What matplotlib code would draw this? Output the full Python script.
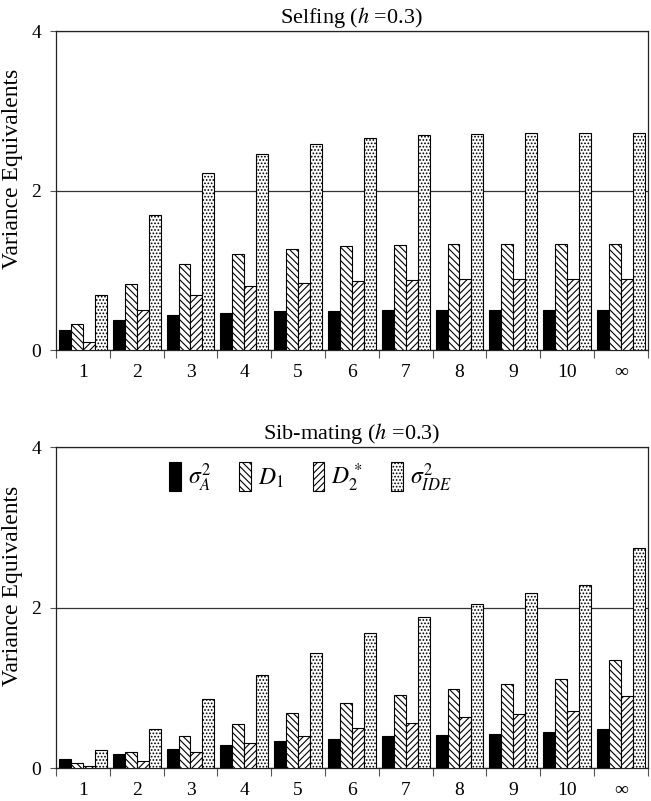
import numpy as np
import matplotlib
matplotlib.use("Agg")
import matplotlib.pyplot as plt
from matplotlib.ticker import FixedLocator

plt.rcParams['font.family'] = ['Liberation Serif', 'DejaVu Serif']
plt.rcParams['mathtext.fontset'] = 'stix'
plt.rcParams['hatch.linewidth'] = 0.8

# categories (generations)
gens = ['1', '2', '3', '4', '5', '6', '7', '8', '9', '10', '\u221e']

# Selfing (h = 0.3)
self_sigA = [0.25, 0.38, 0.44, 0.47, 0.49, 0.49, 0.50, 0.50, 0.50, 0.50, 0.50]
self_D1   = [0.33, 0.83, 1.08, 1.20, 1.27, 1.30, 1.32, 1.33, 1.33, 1.33, 1.33]
self_D2s  = [0.10, 0.50, 0.69, 0.80, 0.84, 0.86, 0.88, 0.89, 0.89, 0.89, 0.89]
self_IDE  = [0.69, 1.70, 2.22, 2.46, 2.58, 2.66, 2.70, 2.71, 2.72, 2.72, 2.72]

# Sib-mating (h = 0.3)
sib_sigA = [0.12, 0.18, 0.245, 0.29, 0.34, 0.37, 0.40, 0.42, 0.43, 0.45, 0.49]
sib_D1   = [0.07, 0.21, 0.40, 0.55, 0.69, 0.82, 0.91, 0.99, 1.05, 1.11, 1.35]
sib_D2s  = [0.025, 0.09, 0.21, 0.32, 0.41, 0.505, 0.57, 0.64, 0.68, 0.72, 0.90]
sib_IDE  = [0.23, 0.49, 0.86, 1.17, 1.44, 1.69, 1.89, 2.05, 2.18, 2.28, 2.74]

labels = [r'$\sigma_A^2$', r'$D_1$', r'$D_2^*$', r'$\sigma_{IDE}^2$']
styles = [
    dict(facecolor='black', hatch=None),
    dict(facecolor='white', hatch='\\\\\\\\\\'),
    dict(facecolor='white', hatch='/////'),
    dict(facecolor='white', hatch='.....'),
]

fig = plt.figure(figsize=(6.51, 8.01), dpi=100)
ax1 = fig.add_axes([0.086, 0.563, 0.909, 0.398])
ax2 = fig.add_axes([0.086, 0.0406, 0.909, 0.401])

x = np.arange(len(gens))
w = 0.222


def draw_panel(ax, series, title, legend=False):
    handles = []
    for i, (vals, st) in enumerate(zip(series, styles)):
        b = ax.bar(x + (i - 1.5) * w, vals, width=w, edgecolor='black',
                   linewidth=0.8, zorder=3, label=labels[i], **st)
        handles.append(b)
    ax.set_xlim(-0.5, len(gens) - 0.5)
    ax.set_ylim(0, 4)
    ax.set_yticks([0, 2, 4])
    ax.set_yticklabels(['0', '2', '4'], fontsize=14)
    ax.set_xticks(x)
    ax.set_xticklabels(gens, fontsize=14)
    ax.xaxis.set_minor_locator(FixedLocator(np.arange(-0.5, len(gens), 1.0)))
    ax.tick_params(axis='x', which='major', length=0, pad=10)
    ax.tick_params(axis='x', which='minor', length=6, width=0.8, color='#555555')
    ax.tick_params(axis='y', length=4.5, width=0.8, color='#555555', pad=6)
    ax.grid(axis='y', color='#333333', linewidth=0.9, zorder=0)
    ax.set_axisbelow(True)
    for sp in ax.spines.values():
        sp.set_linewidth(0.9)
        sp.set_color('#222222')
    ax.set_ylabel('Variance Equivalents', fontsize=17, va='center')
    ax.yaxis.set_label_coords(-0.0735, 0.567)
    ax.set_title(title, fontsize=16, pad=6)
    if legend:
        ax.legend(handles=handles, loc='center', bbox_to_anchor=(0.43, 0.905),
                  ncol=4, frameon=False, fontsize=17, handlelength=0.5,
                  handleheight=1.5, handletextpad=0.3, columnspacing=1.2)


draw_panel(ax1, [self_sigA, self_D1, self_D2s, self_IDE], r'Selfing ($h$ =0.3)')
draw_panel(ax2, [sib_sigA, sib_D1, sib_D2s, sib_IDE], r'Sib-mating ($h$ =0.3)', legend=True)

fig.savefig('out.png', dpi=100, facecolor='white')
